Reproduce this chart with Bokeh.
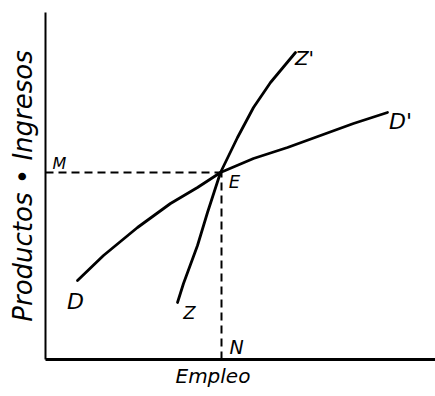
from bokeh.plotting import figure
from bokeh.models import Range1d, Label, FixedTicker, Title
from bokeh.embed import file_html
from bokeh.resources import INLINE

# Curve D -> D' (aggregate demand), chart units
d_x = [32, 58, 92, 125, 152, 175, 208, 242, 275, 308, 342]
d_y = [79, 104, 132, 156, 172, 187, 201, 212, 224, 236, 247]

# Curve Z -> Z' (aggregate supply)
z_x = [132, 138, 152, 162, 175, 192, 208, 225, 250]
z_y = [57, 76, 114, 147, 187, 222, 252, 277, 307]

# Equilibrium point E
e_x = 176
e_y = 187

# Point labels
lab_text = ["M", "E", "N", "D", "D'", "Z", "Z'"]
lab_x = [14, 189, 191, 30, 355, 144, 259]
lab_y = [196, 178, 13, 58, 238, 47, 302]
lab_size = ["16px", "18px", "19px", "22px", "22px", "18px", "20px"]

x_title = "Empleo"
y_title = "Productos \u2022 Ingresos"

p = figure(width=435, height=396, output_backend="svg", toolbar_location=None,
           x_range=Range1d(0, 390), y_range=Range1d(0, 347),
           min_border_left=45, min_border_top=12, min_border_right=0, min_border_bottom=37)
p.outline_line_color = None
p.xgrid.visible = False
p.ygrid.visible = False
p.background_fill_color = "white"
p.border_fill_color = "white"

for ax in (p.xaxis[0], p.yaxis[0]):
    ax.ticker = FixedTicker(ticks=[])
    ax.major_tick_out = 0
    ax.major_tick_in = 0
    ax.minor_tick_out = 0
    ax.minor_tick_in = 0
    ax.major_label_standoff = 0
    ax.axis_line_color = "black"

p.yaxis[0].axis_line_width = 2
p.xaxis[0].axis_line_width = 3
p.yaxis[0].axis_label = y_title
p.yaxis[0].axis_label_text_font = "DejaVu Sans"
p.yaxis[0].axis_label_text_font_style = "italic"
p.yaxis[0].axis_label_text_font_size = "26px"
p.yaxis[0].axis_label_text_color = "black"
p.yaxis[0].axis_label_standoff = 8

p.add_layout(Title(text=x_title, align="left", offset=130, standoff=5,
                   text_font="DejaVu Sans", text_font_style="italic",
                   text_font_size="20px", text_color="black"), "below")

# dashed guides from E
p.line([0, e_x], [e_y, e_y], line_color="black", line_width=2, line_dash="8 5")
p.line([e_x, e_x], [0, e_y], line_color="black", line_width=2, line_dash="8 5")

# curves
p.line(d_x, d_y, line_color="black", line_width=2.8, line_join="round", line_cap="round")
p.line(z_x, z_y, line_color="black", line_width=2.8, line_join="round", line_cap="round")

for t, x, y, s in zip(lab_text, lab_x, lab_y, lab_size):
    p.add_layout(Label(x=x, y=y, text=t, text_font="DejaVu Sans", text_font_style="italic",
                       text_font_size=s, text_align="center", text_baseline="middle",
                       text_color="black"))

open("out.html", "w").write(file_html(p, INLINE))
